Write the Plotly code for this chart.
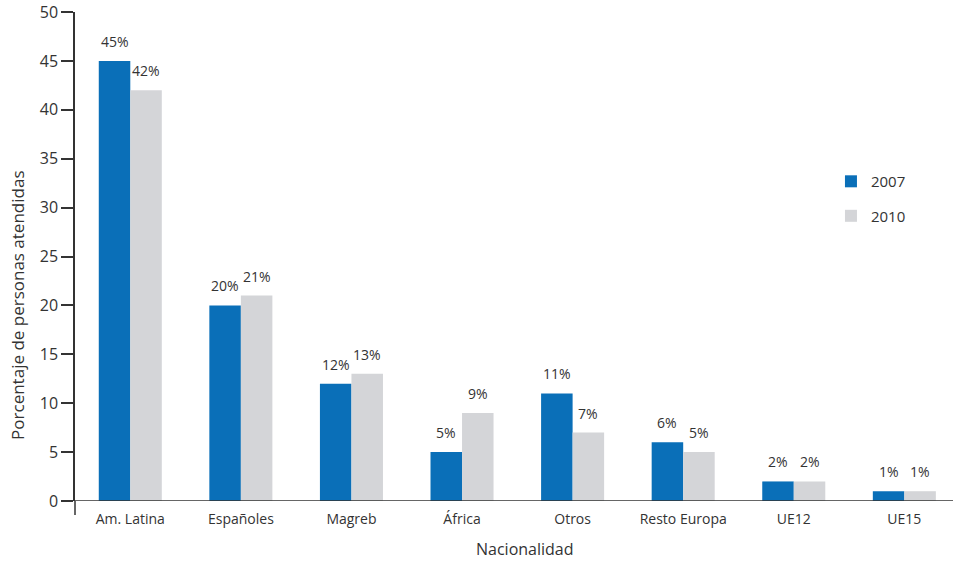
import plotly.graph_objects as go

# Share of people attended, by nationality (%)
categorias = ["Am. Latina", "Españoles", "Magreb", "África", "Otros",
              "Resto Europa", "UE12", "UE15"]
valores_2007 = [45, 20, 12, 5, 11, 6, 2, 1]
valores_2010 = [42, 21, 13, 9, 7, 5, 2, 1]
ticks_y = [0, 5, 10, 15, 20, 25, 30, 35, 40, 45, 50]

FONT = "Open Sans"
TXT = "#333333"
AXIS = "#333333"
BAR_PX = 31.5  # drawn width of one bar, used to centre its value label

fig = go.Figure()
fig.add_trace(go.Bar(
    name="2007", x=categorias, y=valores_2007,
    marker=dict(color="#0a6fb8", line=dict(width=0)),
    legendgroup="a",
))
fig.add_trace(go.Bar(
    name="2010", x=categorias, y=valores_2010,
    marker=dict(color="#d4d5d8", line=dict(width=0)),
    legendgroup="b",
))

# Value labels above each bar
for serie, shift in ((valores_2007, -BAR_PX / 2), (valores_2010, BAR_PX / 2)):
    for cat, v in zip(categorias, serie):
        fig.add_annotation(x=cat, y=v, text=f"{v}%", showarrow=False,
                           xshift=shift, yshift=8, yanchor="bottom",
                           font=dict(family=FONT, size=14, color=TXT))

fig.update_layout(
    width=953, height=564,
    margin=dict(l=75, r=0, t=12, b=63),
    paper_bgcolor="white", plot_bgcolor="white",
    barmode="group", bargap=0.43, bargroupgap=0,
    font=dict(family=FONT, size=14, color=TXT),
    showlegend=True,
    legend=dict(x=0.861, y=0.687, xanchor="left", yanchor="top",
                font=dict(family=FONT, size=15, color=TXT),
                tracegroupgap=12, itemwidth=30, bgcolor="rgba(0,0,0,0)"),
)
fig.update_xaxes(
    range=[-0.5, 7.44], showline=False, showgrid=False, zeroline=False,
    ticks="", ticklabelstandoff=8,
    tickfont=dict(family=FONT, size=14, color=TXT),
)
fig.update_yaxes(
    range=[0, 50], tickvals=ticks_y, showgrid=False, zeroline=False,
    showline=True, linecolor=AXIS, linewidth=1.5,
    ticks="outside", ticklen=12, tickwidth=1.5, tickcolor=AXIS,
    tickfont=dict(family=FONT, size=16, color=TXT),
)

# Baseline extending slightly left of the y axis, and y axis stub below it
fig.add_shape(type="line", xref="paper", yref="y", x0=-0.0137, x1=1, y0=0, y1=0,
              line=dict(color=AXIS, width=1.5))
fig.add_shape(type="line", xref="paper", yref="paper", x0=0, x1=0, y0=0, y1=-0.0286,
              line=dict(color=AXIS, width=1.5))

fig.add_annotation(text="Porcentaje de personas atendidas", xref="paper", yref="paper",
                   x=-0.0655, y=0.40, textangle=-90, showarrow=False,
                   xanchor="center", yanchor="middle",
                   font=dict(family=FONT, size=17, color=TXT))
fig.add_annotation(text="Nacionalidad", xref="paper", yref="paper",
                   x=0.512, y=-0.099, showarrow=False,
                   xanchor="center", yanchor="middle", borderpad=0,
                   font=dict(family=FONT, size=16, color=TXT))

fig.write_html("out.html")
